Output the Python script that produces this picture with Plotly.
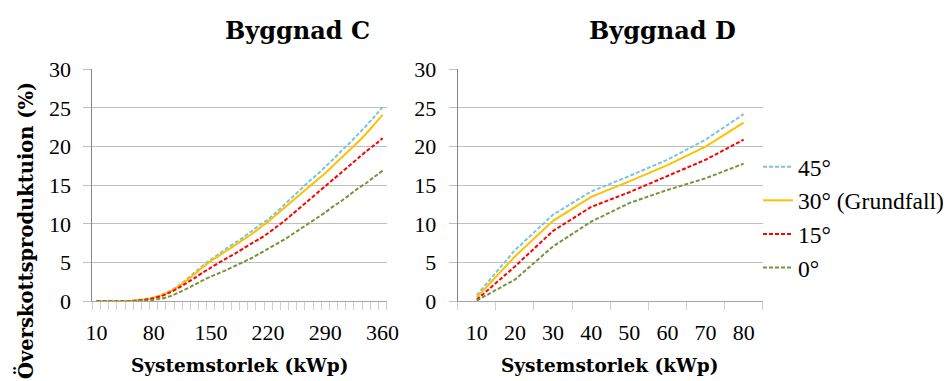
import plotly.graph_objects as go

# ---- data ----
kwp_c = [10, 20, 30, 40, 50, 60, 70, 80, 90, 100, 110, 120, 130, 140, 150, 160, 170, 180,
         190, 200, 210, 220, 230, 240, 250, 260, 270, 280, 290, 300, 310, 320, 330, 340, 350, 360]
c_45 = [0, 0, 0, 0, 0.05, 0.15, 0.3, 0.5, 0.85, 1.35, 2.0, 2.8, 3.7, 4.6, 5.4, 6.1, 6.9, 7.6,
        8.3, 9.1, 9.9, 10.6, 11.5, 12.5, 13.5, 14.5, 15.5, 16.4, 17.4, 18.4, 19.5, 20.5, 21.6, 22.7, 23.9, 25.1]
c_30 = [0, 0, 0, 0, 0.05, 0.12, 0.25, 0.45, 0.8, 1.25, 1.9, 2.65, 3.5, 4.4, 5.2, 5.9, 6.6, 7.3,
        8.0, 8.7, 9.5, 10.3, 11.2, 12.1, 13.0, 13.9, 14.8, 15.7, 16.6, 17.6, 18.6, 19.6, 20.6, 21.7, 22.9, 24.1]
c_15 = [0, 0, 0, 0, 0.02, 0.08, 0.2, 0.4, 0.7, 1.15, 1.7, 2.35, 3.0, 3.7, 4.35, 5.0, 5.6, 6.2,
        6.85, 7.5, 8.1, 8.8, 9.6, 10.4, 11.3, 12.2, 13.1, 14.0, 14.9, 15.8, 16.7, 17.6, 18.5, 19.4, 20.2, 21.1]
c_0 = [0, 0, 0, 0, 0, 0.02, 0.08, 0.18, 0.35, 0.65, 1.1, 1.6, 2.15, 2.7, 3.2, 3.65, 4.1, 4.6,
       5.1, 5.6, 6.2, 6.8, 7.4, 8.0, 8.7, 9.4, 10.1, 10.8, 11.5, 12.3, 13.0, 13.8, 14.6, 15.3, 16.1, 16.9]

kwp_d = [10, 20, 30, 40, 50, 60, 70, 80]
d_45 = [0.8, 6.6, 11.2, 14.2, 16.2, 18.3, 20.9, 24.2]
d_30 = [0.5, 5.8, 10.4, 13.5, 15.5, 17.6, 20.0, 23.1]
d_15 = [0.2, 4.5, 9.1, 12.2, 14.1, 16.2, 18.3, 20.9]
d_0 = [0.1, 2.8, 7.1, 10.3, 12.7, 14.4, 15.9, 17.8]

c_ticks = [10, 80, 150, 220, 290, 360]
y_ticks = [0, 5, 10, 15, 20, 25, 30]

names = ["45°", "30° (Grundfall)", "15°", "0°"]
colors = ["#7DC3DB", "#FFC000", "#FF0000", "#77933C"]
dashes = ["4px,2px", "solid", "4px,2px", "4px,2px"]

# page has an 8px body margin: lay out in screen pixels, convert to figure pixels
OFF = 8
W, H = 951 - OFF, 381 - OFF


def fx(px):
    return (px - OFF) / W


def fy(py):
    return 1 - (py - OFF) / H


SERIF = "Liberation Serif, DejaVu Serif, serif"
SERIF_B = "DejaVu Serif, Liberation Serif, serif"

fig = go.Figure()
series_c = [c_45, c_30, c_15, c_0]
series_d = [d_45, d_30, d_15, d_0]
for i in range(4):
    fig.add_trace(go.Scatter(x=kwp_c, y=series_c[i], mode="lines", name=names[i],
                             line=dict(color=colors[i], width=2, dash=dashes[i], shape="spline", smoothing=0.6),
                             xaxis="x", yaxis="y", showlegend=False, legendgroup=str(i)))
for i in range(4):
    fig.add_trace(go.Scatter(x=kwp_d, y=series_d[i], mode="lines", name=names[i],
                             line=dict(color=colors[i], width=2, dash=dashes[i]),
                             xaxis="x2", yaxis="y2", showlegend=True, legendgroup=str(i)))

ydom = [fy(301.3), fy(69.3)]
grid = "#BFBFBF"
tickfont = dict(family=SERIF, size=22, color="#000")

common_x = dict(showgrid=False, zeroline=False, showline=True, linecolor="#A6A6A6", linewidth=1,
                ticks="", tickfont=tickfont, ticklabelstandoff=11, fixedrange=True, automargin=False)
common_y = dict(range=[0, 30], tickvals=y_ticks, showgrid=True, gridcolor=grid, gridwidth=1,
                zeroline=False, showline=True, linecolor="#868686", linewidth=1,
                ticks="outside", ticklen=8, tickcolor=grid, tickfont=tickfont,
                ticklabelstandoff=8, fixedrange=True, automargin=False)

fig.update_layout(
    width=W, height=H,
    margin=dict(l=0, r=0, t=0, b=0, autoexpand=False),
    paper_bgcolor="white", plot_bgcolor="white",
    xaxis=dict(domain=[fx(92.3), fx(386.7)], range=[5, 365], tickvals=c_ticks, anchor="y",
               minor=dict(tick0=5, dtick=10, ticks="outside", ticklen=8, tickcolor="#D0D0D0"),
               **common_x),
    yaxis=dict(domain=ydom, anchor="x", **common_y),
    xaxis2=dict(domain=[fx(457.7), fx(762.7)], range=[5, 85], tickvals=kwp_d, anchor="y2",
                minor=dict(tick0=5, dtick=10, ticks="outside", ticklen=8, tickcolor="#D0D0D0"),
                **common_x),
    yaxis2=dict(domain=ydom, anchor="x2", **common_y),
    legend=dict(x=fx(758), xanchor="left", y=fy(145), yanchor="top",
                font=dict(family=SERIF, size=23.5, color="#000"),
                tracegroupgap=0, itemwidth=30, bgcolor="rgba(0,0,0,0)"),
    annotations=[
        dict(text="<b>Byggnad C</b>", x=fx(297), y=fy(30), xref="paper", yref="paper",
             xanchor="center", yanchor="middle", showarrow=False,
             font=dict(family=SERIF_B, size=24, color="#000")),
        dict(text="<b>Byggnad D</b>", x=fx(662.5), y=fy(30), xref="paper", yref="paper",
             xanchor="center", yanchor="middle", showarrow=False,
             font=dict(family=SERIF_B, size=24, color="#000")),
        dict(text="<b>Systemstorlek (kWp)</b>", x=fx(239.5), y=fy(365), xref="paper", yref="paper",
             xanchor="center", yanchor="middle", showarrow=False,
             font=dict(family=SERIF_B, size=18.5, color="#000")),
        dict(text="<b>Systemstorlek (kWp)</b>", x=fx(610.2), y=fy(365), xref="paper", yref="paper",
             xanchor="center", yanchor="middle", showarrow=False,
             font=dict(family=SERIF_B, size=18.5, color="#000")),
        dict(text="<b>Överskottsproduktuion (%)</b>", x=fx(26), y=fy(231), xref="paper", yref="paper",
             xanchor="center", yanchor="middle", showarrow=False, textangle=-90,
             font=dict(family=SERIF_B, size=19.5, color="#000")),
    ],
)

fig.write_html("out.html")
